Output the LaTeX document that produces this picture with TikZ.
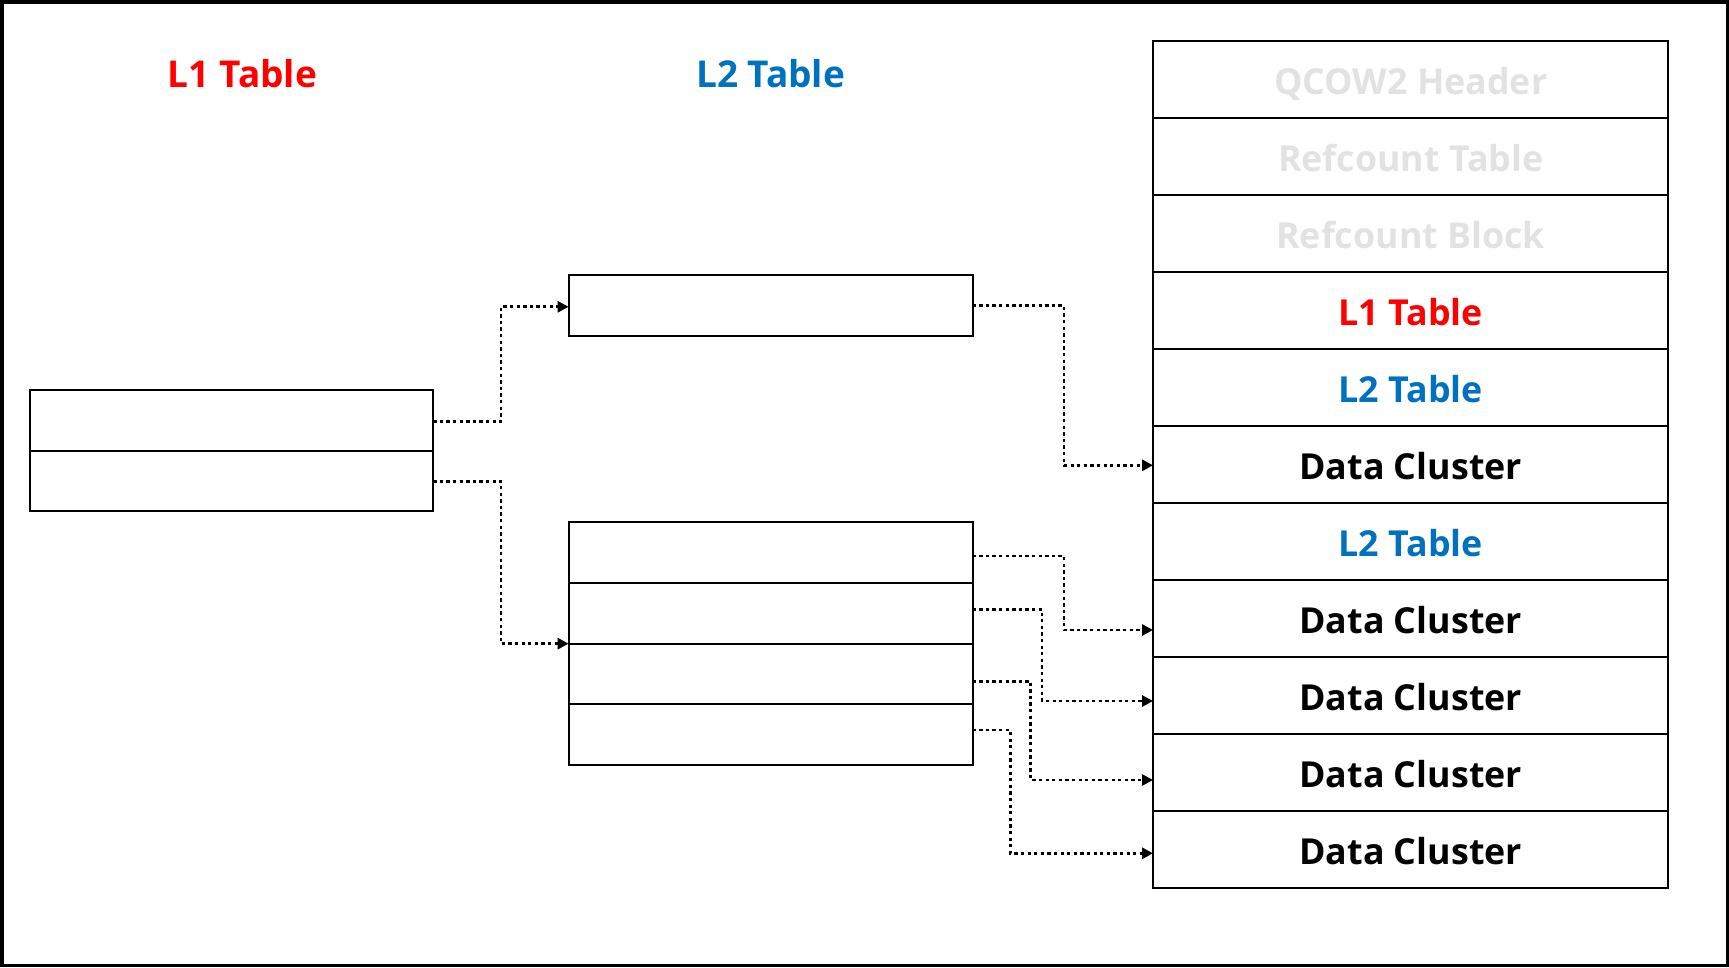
\documentclass[tikz,border=0pt]{standalone}
\usepackage{fontspec}
\setmainfont{Open Sans}
\usetikzlibrary{arrows.meta,calc}
\definecolor{lred}{RGB}{255,0,0}
\definecolor{lblue}{RGB}{0,112,192}
\definecolor{lgray}{RGB}{226,226,226}
\begin{document}
\begin{tikzpicture}[x=1pt,y=-1pt,
  cell/.style={draw=black,line width=2pt,minimum width=404pt,minimum height=60.7pt,inner sep=0pt,outer sep=0pt},
  stk/.style={draw=black,line width=2pt,minimum width=515.3pt,minimum height=77pt,inner sep=0pt,outer sep=0pt,text height=30pt,text depth=0pt,font=\fontsize{35.8}{40}\selectfont\bfseries},
  ttl/.style={font=\fontsize{37}{44}\selectfont\bfseries,inner sep=0pt,anchor=base},
  conn/.style={line width=2.8pt,dash pattern=on 3.3pt off 3.3pt,-{Triangle[length=11pt,width=11pt]}}]
\useasboundingbox (0,0) rectangle (1729,967);
\draw[line width=3.5pt] (1.75,1.75) rectangle (1727.25,965.25);
% titles
\node[ttl,text=lred] (t1) at (242.5,87.3) {L1 Table};
\node[ttl,text=lblue] (t2) at (770.6,87.3) {L2 Table};
% L1 table
\node[cell,minimum width=403.5pt,minimum height=60.7pt] (l1a) at (231.5,420.4) {};
\node[cell,minimum width=403.5pt,minimum height=60.7pt] (l1b) at (231.5,481.1) {};
% L2 tables
\node[cell] (l2t) at (770.6,305.8) {};
\node[cell] (m1) at (770.6,552.6) {};
\node[cell] (m2) at (770.6,613.3) {};
\node[cell] (m3) at (770.6,674.0) {};
\node[cell] (m4) at (770.6,734.7) {};
% stack
\node[stk,text=lgray] (s1) at (1410.7,79.5) {QCOW2 Header};
\node[stk,text=lgray] (s2) at (1410.7,156.5) {Refcount Table};
\node[stk,text=lgray] (s3) at (1410.7,233.5) {Refcount Block};
\node[stk,text=lred] (s4) at (1410.7,310.5) {L1 Table};
\node[stk,text=lblue] (s5) at (1410.7,387.5) {L2 Table};
\node[stk] (s6) at (1410.7,464.5) {Data Cluster};
\node[stk,text=lblue] (s7) at (1410.7,541.5) {L2 Table};
\node[stk] (s8) at (1410.7,618.5) {Data Cluster};
\node[stk] (s9) at (1410.7,695.5) {Data Cluster};
\node[stk] (s10) at (1410.7,772.5) {Data Cluster};
\node[stk] (s11) at (1410.7,849.5) {Data Cluster};
% connectors
\draw[conn] ([yshift=-1pt]l1a.east) -- ++(67.7,0) |- ([yshift=-1pt]l2t.west);
\draw[conn] (l1b.east) -- ++(67.7,0) |- (m2.south west);
\draw[conn] (l2t.east) -- ++(91.4,0) |- ([yshift=-0.8pt]s6.west);
\draw[conn] ([yshift=-3.4pt]m1.east) -- ++(91.4,0) |- ([yshift=-11.5pt]s8.west);
\draw[conn] ([yshift=4pt]m2.east) -- ++(69.4,0) |- ([yshift=-5.5pt]s9.west);
\draw[conn] ([yshift=-7.3pt]m3.east) -- ++(58.1,0) |- ([yshift=-7.5pt]s10.west);
\draw[conn] ([yshift=4.7pt]m4.east) -- ++(37.7,0) |- ([yshift=-3.8pt]s11.west);
\end{tikzpicture}
\end{document}
